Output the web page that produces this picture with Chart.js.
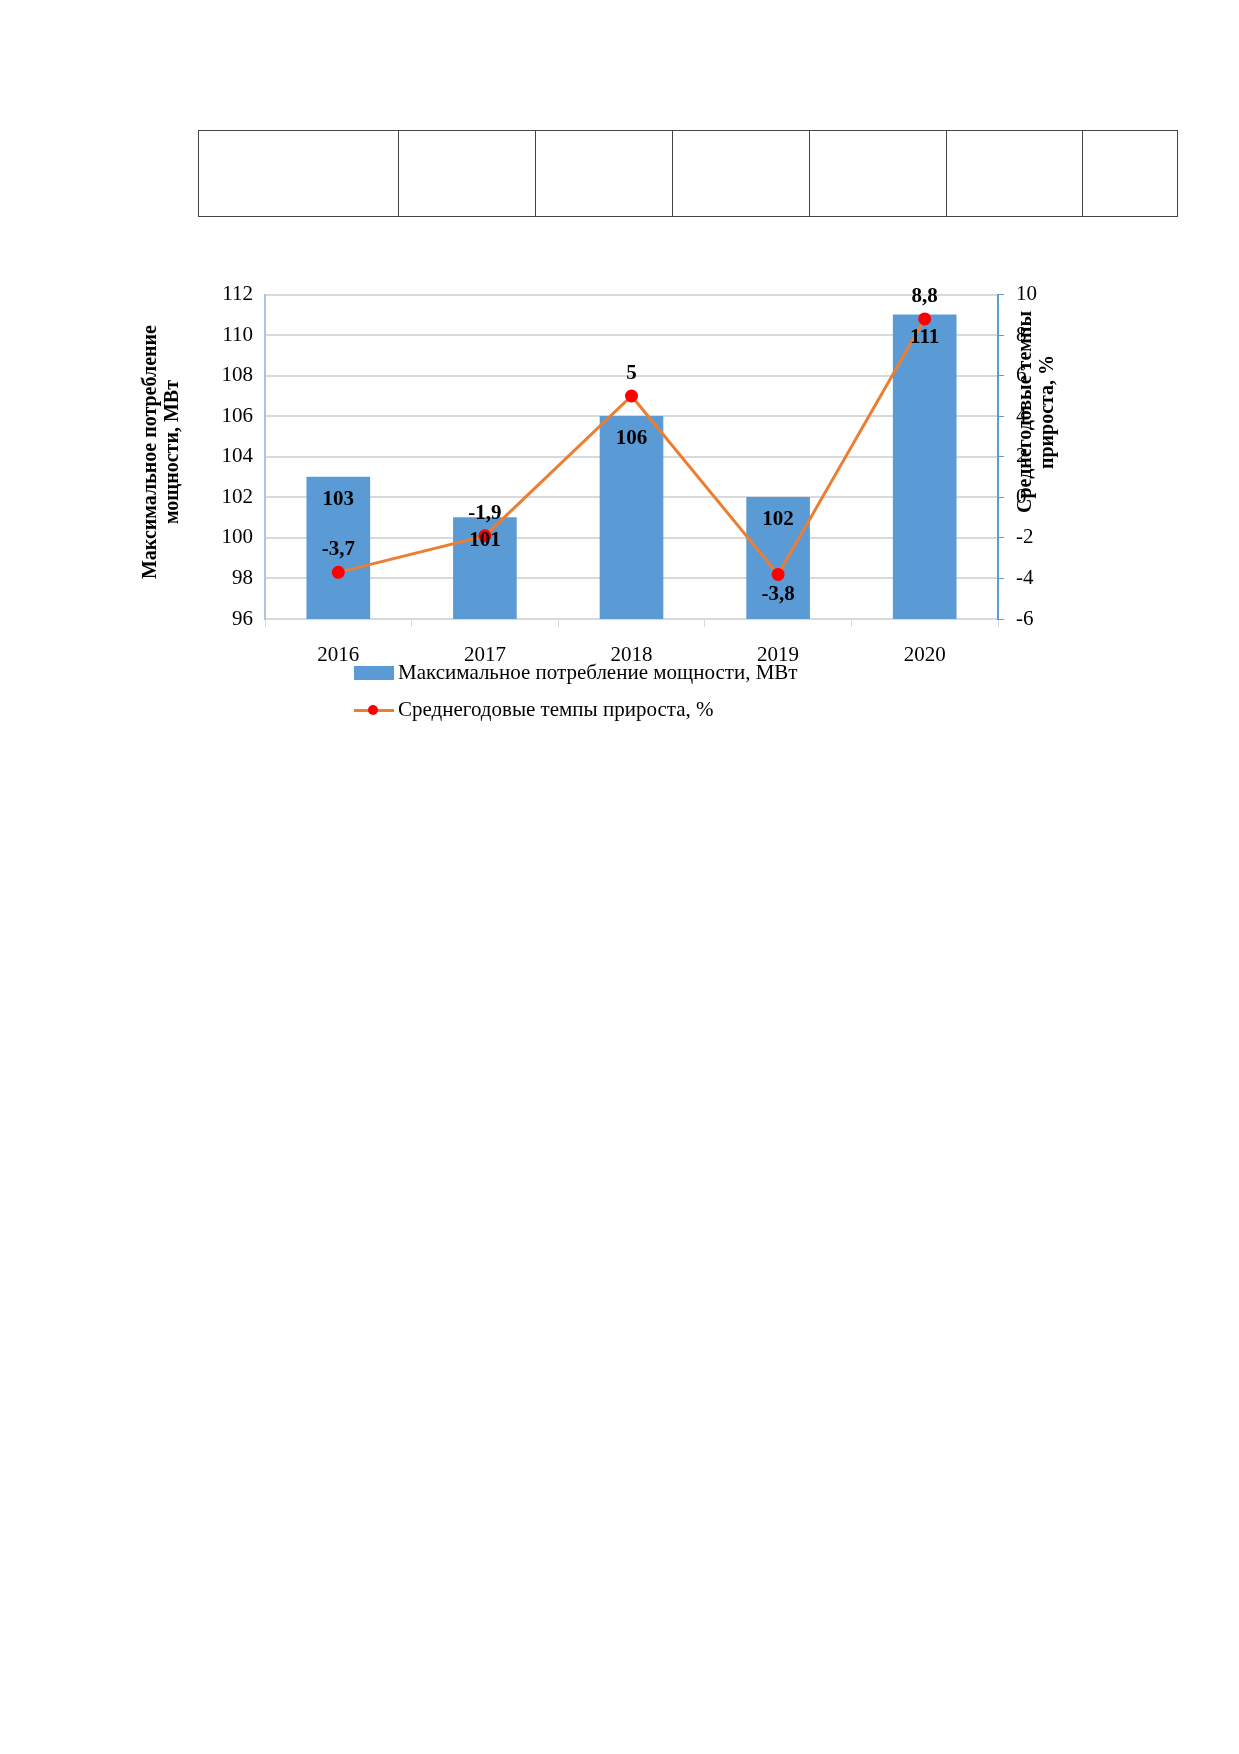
<!DOCTYPE html>
<html><head><meta charset="utf-8">
<script src="https://cdn.jsdelivr.net/npm/chart.js@4"></script>
<style>
body{margin:0;background:#fff;width:1239px;height:1754px;position:relative;font-family:"Liberation Serif",serif}
.tbl{position:absolute;left:198px;top:130px;width:980px;height:87px;border:1.5px solid #444;box-sizing:border-box}
.tbl div{position:absolute;top:0;bottom:0;border-left:1.5px solid #444}
.ttl{position:absolute;font-weight:bold;font-size:20px;line-height:22px;text-align:center;white-space:nowrap;transform:rotate(-90deg);transform-origin:center}
.leg{position:absolute;font-size:21px;display:flex;align-items:center}
</style></head><body>
<div class="tbl"><div style="left:199px"></div><div style="left:336px"></div><div style="left:473px"></div><div style="left:610px"></div><div style="left:747px"></div><div style="left:883px"></div></div>
<div style="position:absolute;left:130px;top:270px;width:960px;height:420px"><canvas id="c"></canvas></div>
<div class="ttl" style="left:-5px;top:430px;width:330px">Максимальное потребление<br>мощности, МВт</div>
<div class="ttl" style="left:925px;top:390px;width:220px">Среднегодовые темпы<br>прироста, %</div>
<div class="leg" style="left:354px;top:660px"><span style="display:inline-block;width:40px;height:14px;background:#5b9bd5;margin-right:4px"></span>Максимальное потребление мощности, МВт</div>
<div class="leg" style="left:354px;top:697px"><span style="position:relative;display:inline-block;width:40px;height:14px;margin-right:4px"><span style="position:absolute;left:0;right:0;top:6px;height:3px;background:#ed7d31"></span><span style="position:absolute;left:14px;top:2px;width:10px;height:10px;border-radius:50%;background:#f00"></span></span>Среднегодовые темпы прироста, %</div>
<script>
const years = ["2016", "2017", "2018", "2019", "2020"];
const power = [103, 101, 106, 102, 111];
const growth = [-3.7, -1.9, 5, -3.8, 8.8];
const growthLabelAbove = [true, true, true, false, true];

const fmt = v => String(v).replace(".", ",");

const labels = {
  id: "labels",
  afterDatasetsDraw(chart) {
    const ctx = chart.ctx;
    ctx.save();
    ctx.font = "bold 21px 'Liberation Serif', serif";
    ctx.fillStyle = "#000";
    ctx.textAlign = "center";
    chart.getDatasetMeta(0).data.forEach((b, i) => {
      ctx.textBaseline = "top";
      ctx.fillText(power[i], b.x, b.y + 12);
    });
    chart.getDatasetMeta(1).data.forEach((p, i) => {
      if (growthLabelAbove[i]) { ctx.textBaseline = "bottom"; ctx.fillText(fmt(growth[i]), p.x, p.y - 12); }
      else { ctx.textBaseline = "top"; ctx.fillText(fmt(growth[i]), p.x, p.y + 10); }
    });
    ctx.restore();
  }
};

new Chart(document.getElementById("c"), {
  data: {
    labels: years,
    datasets: [
      { type: "bar", data: power, backgroundColor: "#5b9bd5", yAxisID: "y", barThickness: 63, order: 2 },
      { type: "line", data: growth, borderColor: "#ed7d31", borderWidth: 3, pointBackgroundColor: "#f00",
        pointBorderColor: "#f00", pointRadius: 5, yAxisID: "y1", order: 1 }
    ]
  },
  plugins: [labels],
  options: {
    responsive: true, maintainAspectRatio: false, animation: false,
    layout: { padding: { top: 20, left: 0, right: 0, bottom: 0 } },
    plugins: { legend: { display: false }, tooltip: { enabled: false } },
    scales: {
      x: {
        grid: { display: true, drawOnChartArea: false, color: "#d9d9d9", offset: true, tickLength: 8 },
        border: { color: "#d9d9d9" },
        ticks: { color: "#000", font: { size: 21, family: "'Liberation Serif', serif" }, padding: 16 },
        afterFit: s => { s.height = 71; }
      },
      y: {
        min: 96, max: 112, ticks: { stepSize: 2, color: "#000", font: { size: 21, family: "'Liberation Serif', serif" }, padding: 12 },
        grid: { color: "#d9d9d9", lineWidth: 2, drawTicks: false },
        border: { color: "#a9c4e4", width: 2 },
        afterFit: s => { s.width = 135; }
      },
      y1: {
        position: "right", min: -6, max: 10,
        ticks: { stepSize: 2, color: "#000", font: { size: 21, family: "'Liberation Serif', serif" }, padding: 12 },
        grid: { drawOnChartArea: false, color: "#5b9bd5", tickLength: 6 },
        border: { color: "#5b9bd5", width: 2 },
        afterFit: s => { s.width = 92; }
      }
    }
  }
});
</script>
</body></html>
